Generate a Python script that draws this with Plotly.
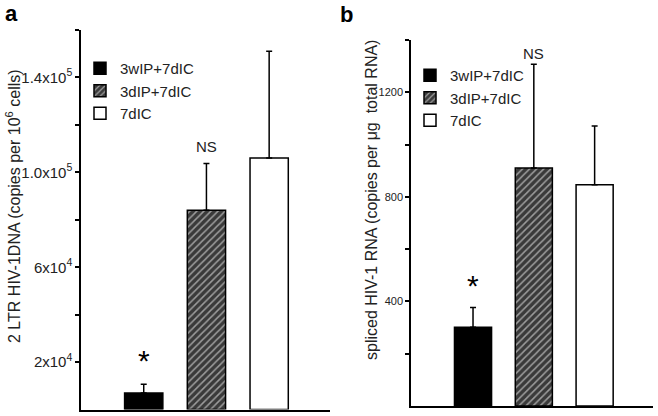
import plotly.graph_objects as go

# ---- data ----
groups = ["3wIP+7dIC", "3dIP+7dIC", "7dIC"]
dna_values = [7000, 84000, 106000]
dna_errors = [3700, 19700, 45000]
rna_values = [301, 910, 846]
rna_errors = [76, 397, 225]

dna_tickvals = [20000, 60000, 100000, 140000]
dna_ticktext = ["2x10<sup>4</sup>", "6x10<sup>4</sup>", "1.0x10<sup>5</sup>", "1.4x10<sup>5</sup>"]
dna_minorvals = [40000, 80000, 120000, 160000]
rna_tickvals = [400, 800, 1200]
rna_ticktext = ["400", "800", "1200"]
rna_minorvals = [200, 600, 1000, 1400]

FONT = "Liberation Sans, Arial, sans-serif"
TXT = "#222"

fills = ["black", "#3a3a3a", "white"]
patterns = [dict(shape=""), dict(shape="/", fgcolor="white", bgcolor="#3a3a3a", size=5, solidity=0.3), dict(shape="")]

fig = go.Figure()

for i, g in enumerate(groups):
    fig.add_trace(go.Bar(
        x=[g], y=[dna_values[i]], name=g, width=0.61,
        marker=dict(color=fills[i], line=dict(color="black", width=1.5), pattern=patterns[i]),
        error_y=dict(type="data", array=[dna_errors[i]], arrayminus=[0], symmetric=False,
                     color="black", thickness=1.5, width=3),
        xaxis="x", yaxis="y", legend="legend",
    ))
for i, g in enumerate(groups):
    fig.add_trace(go.Bar(
        x=[g], y=[rna_values[i]], name=g, width=0.61,
        marker=dict(color=fills[i], line=dict(color="black", width=1.5), pattern=patterns[i]),
        error_y=dict(type="data", array=[rna_errors[i]], arrayminus=[0], symmetric=False,
                     color="black", thickness=1.5, width=3),
        xaxis="x2", yaxis="y2", legend="legend2",
    ))

axis_common = dict(showline=True, linecolor="black", linewidth=1.5, showgrid=False, zeroline=False)
minor_common = dict(ticks="outside", ticklen=4, tickwidth=1.5, tickcolor="black", showgrid=False)

fig.update_layout(
    width=658, height=416,
    margin=dict(l=0, r=0, t=0, b=0),
    paper_bgcolor="white", plot_bgcolor="white",
    barmode="overlay",
    font=dict(family=FONT, size=12, color=TXT),
    xaxis=dict(domain=[81/658, 330/658], type="category", categoryorder="array", categoryarray=groups,
               range=[-1.0, 2.97], showticklabels=False, ticks="", anchor="y", **axis_common),
    yaxis=dict(domain=[6.4/416, 386/416], range=[0, 160000], tickvals=dna_tickvals, ticktext=dna_ticktext,
               ticks="outside", ticklen=4, tickwidth=1.5, tickcolor="black", anchor="x",
               minor=dict(tickvals=dna_minorvals, **minor_common),
               tickfont=dict(size=15, color=TXT), **axis_common),
    xaxis2=dict(domain=[411/658, 653/658], type="category", categoryorder="array", categoryarray=groups,
                range=[-1.02, 2.96], showticklabels=False, ticks="", anchor="y2", **axis_common),
    yaxis2=dict(domain=[10/416, 376/416], range=[0, 1400], tickvals=rna_tickvals, ticktext=rna_ticktext,
                ticks="outside", ticklen=4, tickwidth=1.5, tickcolor="black", anchor="x2",
                minor=dict(tickvals=rna_minorvals, **minor_common),
                tickfont=dict(size=11, color=TXT), **axis_common),
    legend=dict(x=80/658, y=(416-52)/416, xanchor="left", yanchor="top", bgcolor="rgba(0,0,0,0)",
                font=dict(size=15, color=TXT), tracegroupgap=0, traceorder="normal"),
    legend2=dict(x=410/658, y=(416-59)/416, xanchor="left", yanchor="top", bgcolor="rgba(0,0,0,0)",
                 font=dict(size=15, color=TXT), tracegroupgap=0, traceorder="normal"),
    showlegend=True,
)

annotations = [
    dict(text="<b>a</b>", x=11/658, y=(416-13)/416, xref="paper", yref="paper", showarrow=False,
         font=dict(size=22, color="black"), xanchor="center", yanchor="middle"),
    dict(text="<b>b</b>", x=346/658, y=(416-15)/416, xref="paper", yref="paper", showarrow=False,
         font=dict(size=22, color="black"), xanchor="center", yanchor="middle"),
    dict(text="2 LTR HIV-1DNA (copies per 10<sup>6</sup> cells)", x=13/658, y=(416-206)/416,
         xref="paper", yref="paper", showarrow=False, textangle=-90,
         font=dict(size=16, color=TXT), xanchor="center", yanchor="middle"),
    dict(text="spliced HIV-1 RNA (copies per μg  total RNA)", x=372/658, y=(416-200)/416,
         xref="paper", yref="paper", showarrow=False, textangle=-90,
         font=dict(size=16, color=TXT), xanchor="center", yanchor="middle"),
    dict(text="NS", x=groups[1], y=110700, xref="x", yref="y", showarrow=False,
         font=dict(size=15, color=TXT)),
    dict(text="*", x=groups[0], y=20500, xref="x", yref="y", showarrow=False,
         font=dict(size=30, color="black")),
    dict(text="NS", x=groups[1], y=1349, xref="x2", yref="y2", showarrow=False,
         font=dict(size=15, color=TXT)),
    dict(text="*", x=groups[0], y=460, xref="x2", yref="y2", showarrow=False,
         font=dict(size=30, color="black")),
]
fig.update_layout(annotations=annotations)

fig.write_html("out.html", config={"displayModeBar": False},
               post_script="document.body.style.margin='0';")
